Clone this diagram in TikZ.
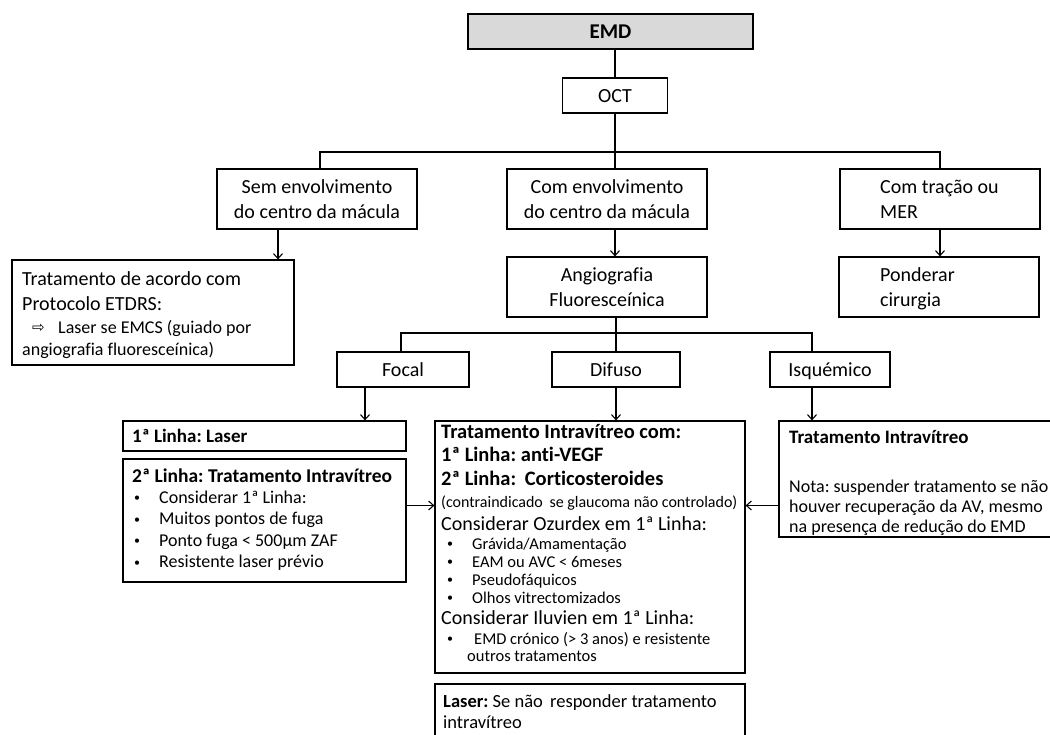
\documentclass[tikz,border=0pt]{standalone}
\usepackage{fontspec}
\setmainfont{Carlito}[Ligatures={NoCommon}]
\newfontfamily\dejavu{DejaVu Sans}
\usetikzlibrary{arrows.meta,calc}
\definecolor{emdgray}{HTML}{D9D9D9}
\newcommand{\myfs}[2]{\fontsize{#1pt}{#2pt}\selectfont}
\newcommand{\bul}[1]{\hspace*{#1pt}\makebox[25pt][l]{\raisebox{1.5pt}{\fontsize{12pt}{12pt}\selectfont •}}}
\frenchspacing
\begin{document}
\begin{tikzpicture}[x=1pt,y=-1pt,
  bx/.style={draw=black, line width=1.2pt, inner sep=0pt, rectangle},
  lbl/.style={font=\myfs{20}{25}, align=center},
  one/.style={text height=16pt, text depth=3pt},
  txt/.style={anchor=base west, inner sep=0pt},
  ln/.style={line width=1.1pt},
  arr/.style={line width=1.1pt, -{Straight Barb[length=5pt,width=9pt]}}]
\useasboundingbox (0,0) rectangle (1050,734);
\clip (0,0) rectangle (1050,734);

% top part
\node[bx, one, fill=emdgray, minimum width=285, minimum height=35, font=\myfs{21}{25}\bfseries] (emd) at (610.5,31.5) {EMD};
\node[bx, lbl, one, minimum width=105, minimum height=35] (oct) at (615,95.5) {OCT};
\node[bx, lbl, minimum width=200, minimum height=60] (sem) at (317,199) {Sem envolvimento\\do centro da mácula};
\node[bx, lbl, minimum width=200, minimum height=60] (com) at (607,199) {Com envolvimento\\do centro da mácula};
\node[bx, minimum width=200, minimum height=60] (trac) at (940,199) {};
\node[txt] (tract) at (880,193) {\begin{minipage}[t]{150pt}\myfs{20}{25}Com tração ou\\MER\end{minipage}};
\node[bx, lbl, minimum width=200, minimum height=60] (angio) at (607,287) {Angiografia\\Fluoresceínica};
\node[bx, minimum width=200, minimum height=60] (pond) at (939,287) {};
\node[txt] (pondt) at (880,281) {\begin{minipage}[t]{150pt}\myfs{20}{25}Ponderar\\cirurgia\end{minipage}};
\node[bx, minimum width=282, minimum height=105] (etdrs) at (153,312.5) {};
\node[txt] (etdrs1) at (22,285) {\begin{minipage}[t]{270pt}\myfs{20}{25}Tratamento de acordo com\\Protocolo ETDRS:\end{minipage}};
\node[txt] (etdrs2) at (22,333) {\begin{minipage}[t]{270pt}\myfs{18}{22}\hspace*{10pt}\makebox[26pt][l]{\raisebox{0.5pt}{\dejavu\fontsize{15pt}{15pt}\selectfont ⇨}}Laser se EMCS (guiado por\\angiografia fluoresceínica)\end{minipage}};

% second row
\node[bx, lbl, one, minimum width=132, minimum height=35] (focal) at (403,369.5) {Focal};
\node[bx, lbl, one, minimum width=128, minimum height=35] (difuso) at (616,369.5) {Difuso};
\node[bx, lbl, one, minimum width=120, minimum height=35] (isq) at (830,369.5) {Isquémico};

% bottom boxes
\node[bx, minimum width=283, minimum height=30] (l1) at (264.5,436) {};
\node[txt] (l1t) at (132,442) {\myfs{19}{21}\bfseries 1ª Linha: Laser};
\node[bx, minimum width=283, minimum height=123] (l2) at (264.5,520.5) {};
\node[txt] (l2t) at (132,482) {\begin{minipage}[t]{270pt}\myfs{19.5}{21.4}\textbf{2ª Linha: Tratamento Intravítreo}\\
{\myfs{18}{21.4}\bul{2}Considerar 1ª Linha:}\\
{\myfs{18}{21.4}\bul{2}Muitos pontos de fuga}\\
{\myfs{18}{21.4}\bul{2}Ponto fuga < 500µm ZAF}\\
{\myfs{18}{21.4}\bul{2}Resistente laser prévio}\end{minipage}};

\node[bx, minimum width=310, minimum height=252] (central) at (590,547) {};
\node[txt] (c1) at (441,438) {\begin{minipage}[t]{300pt}\myfs{20.5}{23.5}\bfseries Tratamento Intravítreo com:\\1ª Linha: anti-VEGF\\2ª Linha:\hspace{4pt} Corticosteroides\end{minipage}};
\node[txt] (c2) at (441,507) {\myfs{16}{18}(contraindicado\hspace{3pt} se glaucoma não controlado)};
\node[txt] (c3) at (441,530) {\myfs{20}{24}Considerar Ozurdex em 1ª Linha:};
\node[txt] (c4) at (441,549) {\begin{minipage}[t]{300pt}\myfs{16.5}{18}\bul{6}Grávida/Amamentação\\\bul{6}EAM ou AVC < 6meses\\\bul{6}Pseudofáquicos\\\bul{6}Olhos vitrectomizados\end{minipage}};
\node[txt] (c5) at (441,624) {\myfs{20}{24}Considerar Iluvien em 1ª Linha:};
\node[txt] (c6) at (441,644) {\begin{minipage}[t]{300pt}\myfs{16.5}{17}\bul{6}\hspace{2pt}EMD crónico (> 3 anos) e resistente\\\hspace*{26pt}outros tratamentos\end{minipage}};

\node[bx, minimum width=310, minimum height=61] (laser) at (590,714.5) {};
\node[txt] (lasert) at (443,707) {\begin{minipage}[t]{300pt}\myfs{18.5}{21}\textbf{Laser:} Se não\hspace{3pt} responder tratamento\\intravítreo\end{minipage}};

\node[bx, minimum width=281, minimum height=116] (right) at (919.5,479) {};
\node[txt] (r1) at (789,443) {\myfs{19}{21}\bfseries Tratamento Intravítreo};
\node[txt] (r2) at (789,492) {\begin{minipage}[t]{280pt}\myfs{18}{20}Nota: suspender tratamento se não\\houver recuperação da AV, mesmo\\na presença de redução do EMD\end{minipage}};

% connectors
\coordinate (hl) at (615,152);
\coordinate (xs) at (320,0);
\coordinate (xa) at (278,0);
\coordinate (hl2) at (616,333);
\coordinate (xf) at (401,0);
\coordinate (xi) at (812,0);
\coordinate (xd) at (365,0);
\coordinate (ya) at (0,505.5);

\draw[ln] (emd.south -| oct.north) -- (oct.north);
\draw[ln] (oct.south) -- (oct.south |- com.north);
\draw[ln] (sem.north -| xs) |- (hl) -| (trac.north);
\draw[arr] (sem.south -| xa) -- (etdrs.north -| xa);
\draw[arr] (com.south -| oct.south) -- (angio.north -| oct.south);
\draw[arr] (trac.south) -- (trac.south |- pond.north);
\draw[ln] (angio.south -| difuso.north) -- (difuso.north);
\draw[ln] (focal.north -| xf) |- (hl2) -| (isq.north -| xi);
\draw[arr] (focal.south -| xd) -- (l1.north -| xd);
\draw[arr] (difuso.south) -- (central.north -| difuso.south);
\draw[arr] (isq.south -| xi) -- (right.north -| xi);
\draw[arr] (l2.east |- ya) -- (central.west |- ya);
\draw[arr] (right.west |- ya) -- (central.east |- ya);
\end{tikzpicture}
\end{document}
